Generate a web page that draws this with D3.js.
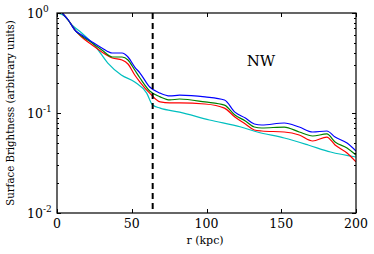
<!DOCTYPE html>
<html>
<head>
<meta charset="UTF-8">
<script src="https://d3js.org/d3.v7.min.js"></script>
<style>
  body { margin: 0; background: #fff; }
  svg { font-family: "DejaVu Serif", serif; }
</style>
</head>
<body>
<div id="chart"></div>
<script>
// radii for the blue / green / red profiles (kpc)
const radii = [3.5, 7.5, 12.5, 16.5, 23.5, 30, 37, 43.5, 47.5, 52, 55.5, 62, 69, 75.5, 82, 99, 112, 119, 126, 132, 137, 152, 162, 171, 180.5, 186, 194, 200];
const blue = [1.0, 0.851, 0.661, 0.603, 0.513, 0.447, 0.398, 0.398, 0.363, 0.288, 0.251, 0.182, 0.158, 0.148, 0.151, 0.145, 0.135, 0.102, 0.0891, 0.0776, 0.0759, 0.0794, 0.0724, 0.0646, 0.0661, 0.0575, 0.0501, 0.0417];
const green = [1.0, 0.851, 0.661, 0.589, 0.501, 0.427, 0.363, 0.363, 0.339, 0.269, 0.224, 0.166, 0.145, 0.135, 0.138, 0.129, 0.120, 0.0955, 0.0832, 0.0724, 0.0708, 0.0724, 0.0646, 0.0589, 0.0617, 0.0513, 0.0447, 0.0380];
const red = [1.0, 0.851, 0.661, 0.575, 0.479, 0.407, 0.355, 0.339, 0.309, 0.240, 0.204, 0.158, 0.129, 0.126, 0.126, 0.123, 0.112, 0.0912, 0.0776, 0.0676, 0.0661, 0.0646, 0.0603, 0.0525, 0.0575, 0.0479, 0.0398, 0.0324];
// cyan profile has its own radii
const cyanRadii = [0, 5, 10, 16.5, 26, 34, 43, 52, 60, 64, 69, 82, 102, 123, 134, 152, 168, 183, 200];
const cyan = [1.0, 0.933, 0.759, 0.631, 0.457, 0.316, 0.240, 0.204, 0.158, 0.120, 0.112, 0.102, 0.0851, 0.0724, 0.0646, 0.0562, 0.0479, 0.0407, 0.0363];

const xTicks = [0, 50, 100, 150, 200];
const yMajor = [1, 0.1, 0.01];
const yExp = ["0", "-1", "-2"];
const rCut = 64;   // dashed line
const label = "NW";

const width = 374, height = 254;
const margin = { top: 13, right: 18, bottom: 41, left: 57 };

const svg = d3.select("#chart").append("svg")
    .attr("width", width)
    .attr("height", height);

const x = d3.scaleLinear().domain([0, 200]).range([margin.left, width - margin.right]);
const y = d3.scaleLog().domain([0.01, 1]).range([height - margin.bottom, margin.top]);

svg.append("clipPath").attr("id", "clip")
  .append("rect")
    .attr("x", x(0)).attr("y", y(1))
    .attr("width", x(200) - x(0)).attr("height", y(0.01) - y(1));

const line = d3.line()
    .x(d => x(d[0]))
    .y(d => y(d[1]))
    .curve(d3.curveMonotoneX);

const series = [
  { r: cyanRadii, v: cyan, color: "#00bfbf" },
  { r: radii, v: red, color: "#ff0000" },
  { r: radii, v: green, color: "#008000" },
  { r: radii, v: blue, color: "#0000ff" }
];

const g = svg.append("g").attr("clip-path", "url(#clip)");
series.forEach(s => {
  g.append("path")
    .datum(s.r.map((r, i) => [r, s.v[i]]))
    .attr("fill", "none")
    .attr("stroke", s.color)
    .attr("stroke-width", 1.2)
    .attr("d", line);
});

// dashed line
svg.append("line")
    .attr("x1", x(rCut)).attr("x2", x(rCut))
    .attr("y1", y(1)).attr("y2", y(0.01))
    .attr("stroke", "#000")
    .attr("stroke-width", 2)
    .attr("stroke-dasharray", "6,4");

// ticks, inward on all sides
const tickLen = 4, minorLen = 2;
const axisG = svg.append("g").attr("stroke", "#000").attr("stroke-width", 1);
xTicks.forEach(t => {
  const px = Math.round(x(t)) + 0.5;
  axisG.append("line").attr("x1", px).attr("x2", px).attr("y1", y(0.01)).attr("y2", y(0.01) - tickLen);
  axisG.append("line").attr("x1", px).attr("x2", px).attr("y1", y(1)).attr("y2", y(1) + tickLen);
});
const yMinor = [];
[0.01, 0.1].forEach(b => { for (let k = 2; k <= 9; k++) yMinor.push(b * k); });
yMajor.forEach(t => {
  const py = Math.round(y(t)) + 0.5;
  axisG.append("line").attr("x1", x(0)).attr("x2", x(0) + tickLen).attr("y1", py).attr("y2", py);
  axisG.append("line").attr("x1", x(200)).attr("x2", x(200) - tickLen).attr("y1", py).attr("y2", py);
});
yMinor.forEach(t => {
  const py = Math.round(y(t)) + 0.5;
  axisG.append("line").attr("x1", x(0)).attr("x2", x(0) + minorLen).attr("y1", py).attr("y2", py);
  axisG.append("line").attr("x1", x(200)).attr("x2", x(200) - minorLen).attr("y1", py).attr("y2", py);
});

// frame
svg.append("rect")
    .attr("x", x(0)).attr("y", y(1))
    .attr("width", x(200) - x(0)).attr("height", y(0.01) - y(1))
    .attr("fill", "none").attr("stroke", "#000").attr("stroke-width", 1.2);

// tick labels
svg.append("g").selectAll("text").data(xTicks).join("text")
    .attr("x", d => x(d))
    .attr("y", y(0.01) + 14.5)
    .attr("text-anchor", "middle")
    .attr("font-size", 12.5)
    .text(d => d);

svg.append("g").selectAll("text").data(yMajor).join("text")
    .attr("x", x(0) - 14)
    .attr("y", d => y(d) + 5)
    .attr("text-anchor", "end")
    .attr("font-size", 12.5)
    .text("10");
svg.append("g").selectAll("text").data(yMajor).join("text")
    .attr("x", x(0) - 14)
    .attr("y", d => y(d) - 1)
    .attr("font-size", 9)
    .text((d, i) => yExp[i]);

// axis titles
svg.append("text")
    .attr("x", 205)
    .attr("y", 244)
    .attr("text-anchor", "middle")
    .attr("font-size", 11)
    .text("r (kpc)");

svg.append("text")
    .attr("transform", "translate(14,113) rotate(-90)")
    .attr("text-anchor", "middle")
    .attr("font-size", 10.2)
    .text("Surface Brightness (arbitrary units)");

svg.append("text")
    .attr("x", 261)
    .attr("y", 66)
    .attr("text-anchor", "middle")
    .attr("font-size", 15)
    .text(label);
</script>
</body>
</html>
